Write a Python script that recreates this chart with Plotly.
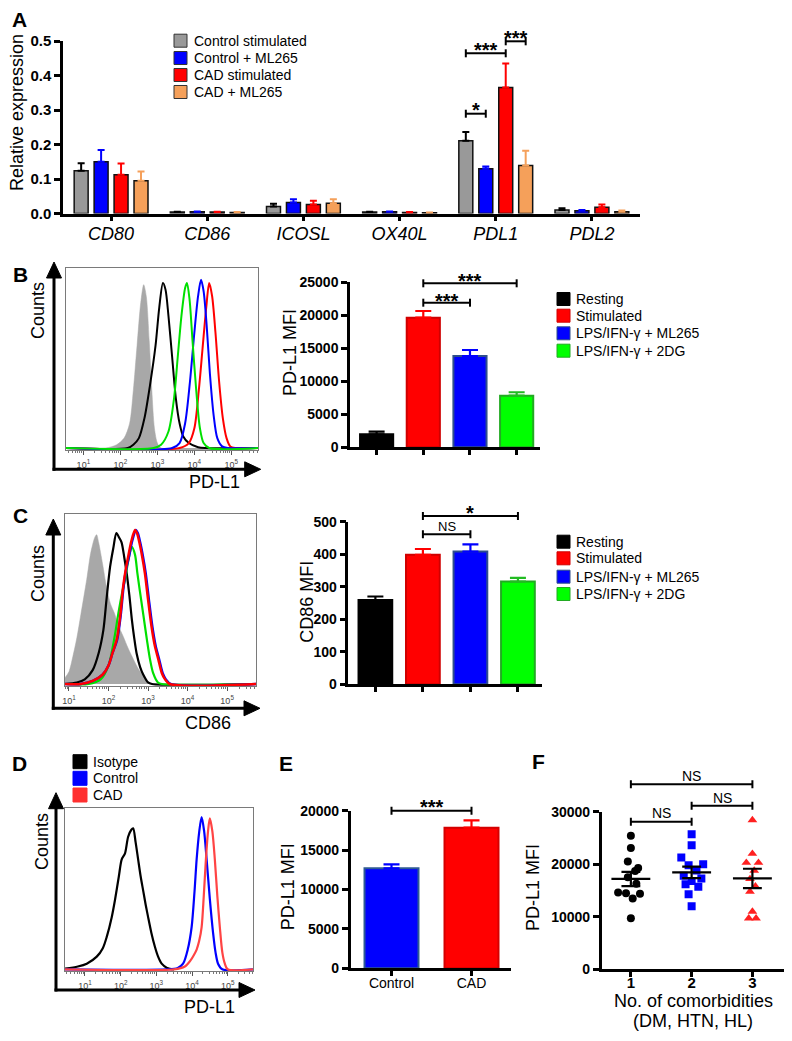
import numpy as np
import plotly.graph_objects as go

# The page body has an 8px margin; the figure is sized so that the page is 792x1041.
W, H = 792, 1041
OFF = 8
FW, FH = W - 2 * OFF, H - 2 * OFF
FONT = "Arial, Liberation Sans, sans-serif"

# ---------------- Panel A data ----------------
genes = ["CD80", "CD86", "ICOSL", "OX40L", "PDL1", "PDL2"]
a_series = ["Control stimulated", "Control + ML265", "CAD stimulated", "CAD + ML265"]
a_ctrl_stim = [0.124, 0.004, 0.020, 0.004, 0.211, 0.010]
a_ctrl_stim_err = [0.022, 0.001, 0.008, 0.001, 0.025, 0.005]
a_ctrl_ml = [0.150, 0.005, 0.032, 0.005, 0.130, 0.008]
a_ctrl_ml_err = [0.034, 0.001, 0.009, 0.001, 0.006, 0.002]
a_cad_stim = [0.112, 0.004, 0.026, 0.003, 0.365, 0.018]
a_cad_stim_err = [0.033, 0.001, 0.011, 0.001, 0.070, 0.008]
a_cad_ml = [0.095, 0.003, 0.030, 0.002, 0.139, 0.005]
a_cad_ml_err = [0.027, 0.001, 0.011, 0.001, 0.043, 0.004]
a_ticks = [0.0, 0.1, 0.2, 0.3, 0.4, 0.5]

# ---------------- Panel B / C bar data ----------------
bc_groups = ["Resting", "Stimulated", "LPS/IFN-γ + ML265", "LPS/IFN-γ + 2DG"]
b_pdl1 = [1970, 19640, 13830, 7820]
b_pdl1_err = [390, 1010, 910, 520]
b_ticks = [0, 5000, 10000, 15000, 20000, 25000]
c_cd86 = [259, 398, 408, 316]
c_cd86_err = [11, 18, 22, 11]
c_ticks = [0, 100, 200, 300, 400, 500]

# ---------------- Histogram data (x = log10 intensity, y = % of mode) ----------------
hist_ticks = [1, 2, 3, 4, 5]
hist_ticktext = ["10<sup>1</sup>", "10<sup>2</sup>", "10<sup>3</sup>", "10<sup>4</sup>", "10<sup>5</sup>"]

hb_gray_x = [0.53, 1.6, 1.9, 2.1, 2.25, 2.35, 2.45, 2.55, 2.63, 2.7, 2.78, 2.85, 2.92, 3.0, 3.1, 5.72]
hb_gray_y = [0, 0, 2, 6, 15, 35, 62, 88, 99, 92, 65, 35, 12, 3, 0, 0]
hb_black_x = [0.53, 2.2, 2.35, 2.5, 2.65, 2.8, 2.95, 3.05, 3.15, 3.22, 3.3, 3.4, 3.5, 3.6, 3.7, 3.85, 4.1, 4.3, 5.72]
hb_black_y = [0, 0, 2, 6, 18, 38, 62, 85, 100, 96, 80, 55, 30, 15, 7, 3, 0.5, 0, 0]
hb_red_x = [0.53, 3.6, 3.85, 4.0, 4.12, 4.22, 4.32, 4.4, 4.48, 4.57, 4.67, 4.77, 4.87, 4.97, 5.1, 5.72]
hb_red_y = [0, 0, 3, 12, 35, 60, 85, 100, 92, 70, 40, 18, 6, 1, 0, 0]
hb_blue_x = [0.53, 3.4, 3.6, 3.75, 3.88, 4.0, 4.1, 4.18, 4.25, 4.33, 4.42, 4.52, 4.62, 4.75, 4.9, 5.72]
hb_blue_y = [0, 0, 3, 15, 40, 70, 92, 102, 95, 75, 45, 20, 6, 1, 0, 0]
hb_green_x = [0.53, 2.9, 3.1, 3.3, 3.45, 3.55, 3.65, 3.75, 3.8, 3.87, 3.95, 4.05, 4.15, 4.25, 4.4, 5.72]
hb_green_y = [0, 0, 2, 10, 30, 55, 80, 97, 100, 90, 65, 35, 12, 3, 0, 0]

hc_gray_x = [0.9, 1.0, 1.1, 1.2, 1.3, 1.45, 1.55, 1.65, 1.7, 1.75, 1.85, 1.95, 2.05, 2.15, 2.25, 2.37, 2.5, 2.63, 2.75, 2.88, 3.0, 3.15, 5.73]
hc_gray_y = [4, 8, 18, 30, 45, 68, 85, 95, 97, 92, 78, 63, 52, 46, 38, 31, 23, 16, 10, 5, 1, 0, 0]
hc_black_x = [0.9, 1.2, 1.4, 1.6, 1.75, 1.87, 1.95, 2.04, 2.12, 2.2, 2.27, 2.33, 2.4, 2.46, 2.53, 2.59, 2.65, 2.71, 2.8, 2.88, 3.0, 3.1, 5.73]
hc_black_y = [0, 1, 3, 9, 20, 35, 55, 76, 88, 98, 95, 92, 82, 72, 57, 42, 30, 20, 11, 6, 1, 0, 0]
hc_green_x = [0.9, 1.5, 1.8, 2.0, 2.15, 2.25, 2.35, 2.42, 2.5, 2.59, 2.67, 2.73, 2.79, 2.88, 2.97, 3.05, 3.13, 3.25, 3.35, 5.73]
hc_green_y = [0, 0, 3, 12, 30, 46, 60, 68, 80, 89, 84, 72, 61, 45, 29, 16, 7, 1, 0, 0]
hc_blue_x = [0.9, 1.3, 1.6, 1.85, 2.0, 2.1, 2.22, 2.31, 2.38, 2.45, 2.52, 2.6, 2.69, 2.74, 2.8, 2.87, 2.94, 3.02, 3.11, 3.19, 3.28, 3.37, 3.45, 3.57, 5.73]
hc_blue_y = [0, 0, 2, 6, 12, 20, 29, 45, 63, 75, 83, 93, 100, 98, 92, 83, 72, 55, 37, 25, 16, 7, 3, 0, 0]
hc_red_x = [0.9, 1.3, 1.6, 1.85, 2.0, 2.1, 2.21, 2.3, 2.37, 2.44, 2.5, 2.58, 2.67, 2.72, 2.78, 2.85, 2.92, 3.0, 3.09, 3.17, 3.26, 3.35, 3.43, 3.55, 5.73]
hc_red_y = [0, 0, 2, 6, 12, 20, 29, 45, 63, 75, 83, 93, 100, 98, 92, 83, 72, 55, 37, 25, 16, 7, 3, 0, 0]

hd_black_x = [0.44, 0.8, 1.05, 1.33, 1.5, 1.61, 1.75, 1.84, 1.95, 2.03, 2.12, 2.21, 2.3, 2.35, 2.42, 2.49, 2.56, 2.63, 2.7, 2.77, 2.86, 2.96, 3.05, 3.15, 3.3, 3.5]
hd_black_y = [0.5, 2, 4, 9, 15, 23, 37, 49, 66, 78, 82, 94, 99, 100, 90, 78, 66, 56, 46, 37, 26, 16, 9, 4, 1, 0]
hd_blue_x = [0.44, 3.3, 3.6, 3.75, 3.88, 3.99, 4.07, 4.13, 4.2, 4.27, 4.34, 4.41, 4.5, 4.59, 4.66, 4.73, 4.85, 5.71]
hd_blue_y = [0, 0, 1, 4, 14, 30, 55, 78, 97, 108, 98, 78, 50, 26, 12, 4, 0, 0]
hd_red_x = [0.44, 3.5, 3.8, 3.95, 4.05, 4.13, 4.2, 4.27, 4.33, 4.39, 4.45, 4.5, 4.57, 4.64, 4.71, 4.78, 4.85, 4.92, 5.0, 5.71]
hd_red_y = [0, 0, 2, 6, 10, 14, 20, 30, 52, 78, 98, 107, 98, 78, 52, 30, 12, 4, 0, 0]
d_groups = ["Isotype", "Control", "CAD"]

# ---------------- Panel E data ----------------
e_groups = ["Control", "CAD"]
e_pdl1 = [12690, 17840]
e_pdl1_err = [510, 940]
e_ticks = [0, 5000, 10000, 15000, 20000]

# ---------------- Panel F data ----------------
f_groups = [1, 2, 3]
f1_vals = [25400, 23100, 20500, 19300, 18700, 17500, 16300, 14600, 14500, 14400, 13500, 9700]
f1_jitter = [0.0, 0.0, -0.05, 0.12, 0.07, -0.05, 0.09, -0.21, -0.08, 0.15, 0.03, 0.0]
f2_vals = [25700, 23600, 21300, 20000, 19800, 18800, 17800, 17300, 16800, 16200, 15700, 14300, 12000]
f2_jitter = [0.0, 0.0, -0.17, 0.19, -0.05, 0.08, -0.13, 0.16, 0.0, -0.1, 0.11, -0.05, 0.0]
f3_vals = [28400, 22000, 20300, 20300, 18800, 17200, 15800, 14800, 11000, 9700, 9700]
f3_jitter = [0.0, 0.0, -0.1, 0.1, 0.03, -0.04, 0.05, -0.04, 0.0, -0.06, 0.06]
f_mean = [17200, 18450, 17300]
f_sem = [1350, 1080, 1840]
f_ticks = [0, 10000, 20000, 30000]

# ---------------- helpers (page pixel -> paper fraction) ----------------
def PX(x):
    return (x - OFF) / FW

def PY(y):
    return 1 - (y - OFF) / FH

def clamp(v):
    return min(1.0, max(0.0, v))

def dom_x(a, b):
    return [clamp(PX(a)), clamp(PX(b))]

def dom_y(top, bottom):
    return [clamp(PY(bottom)), clamp(PY(top))]

shapes = []
annots = []

def text(x, y, s, size=14, bold=False, xanchor="center", yanchor="middle", angle=0,
         xref="paper", italic=False, color="black"):
    annots.append(dict(x=x if xref != "paper" else PX(x), y=PY(y), xref=xref, yref="paper",
                       text=s, showarrow=False, xanchor=xanchor, yanchor=yanchor,
                       textangle=angle,
                       font=dict(family=FONT, size=size, color=color,
                                 weight="bold" if bold else "normal",
                                 style="italic" if italic else "normal")))

def bracket(xref, x0, x1, ypx, label, label_py, size=20, bold=True, tick=4, lw=2):
    line = dict(color="black", width=lw)
    shapes.append(dict(type="line", xref=xref, yref="paper", x0=x0, x1=x1,
                       y0=PY(ypx), y1=PY(ypx), line=line))
    for xx in (x0, x1):
        shapes.append(dict(type="line", xref=xref, yref="paper", x0=xx, x1=xx,
                           y0=PY(ypx - tick), y1=PY(ypx + tick), line=line))
    text((x0 + x1) / 2, label_py, label, size=size, bold=bold, xref=xref)

def legend_item(xsq, yc, size, fill, border, label, fsize=14, gap=5):
    shapes.append(dict(type="rect", xref="paper", yref="paper",
                       x0=PX(xsq), x1=PX(xsq + size), y0=PY(yc + size / 2), y1=PY(yc - size / 2),
                       fillcolor=fill, line=dict(color=border, width=1)))
    text(xsq + size + gap, yc, label, size=fsize, xanchor="left")

def arrows(xv, y_corner, y_tip, x_tip, head=16, half=7.5, lw=3):
    line = dict(color="black", width=lw)
    shapes.append(dict(type="line", xref="paper", yref="paper", x0=PX(xv), x1=PX(xv),
                       y0=PY(y_corner + lw / 2), y1=PY(y_tip + head - 1), line=line))
    shapes.append(dict(type="line", xref="paper", yref="paper", x0=PX(xv - lw / 2), x1=PX(x_tip - head + 1),
                       y0=PY(y_corner), y1=PY(y_corner), line=line))
    shapes.append(dict(type="path", xref="paper", yref="paper",
                       path=f"M {PX(xv - half)} {PY(y_tip + head)} L {PX(xv)} {PY(y_tip)} L {PX(xv + half)} {PY(y_tip + head)} Z",
                       fillcolor="black", line=dict(color="black", width=1)))
    shapes.append(dict(type="path", xref="paper", yref="paper",
                       path=f"M {PX(x_tip - head)} {PY(y_corner - half)} L {PX(x_tip)} {PY(y_corner)} L {PX(x_tip - head)} {PY(y_corner + half)} Z",
                       fillcolor="black", line=dict(color="black", width=1)))

fig = go.Figure()

# ---------------- Panel A ----------------
a_cols = ["#999999", "#0000ff", "#ff0000", "#f5a05a"]
a_errcols = ["#000000", "#0000ff", "#ff0000", "#f5a05a"]
a_vals = [a_ctrl_stim, a_ctrl_ml, a_cad_stim, a_cad_ml]
a_errs = [a_ctrl_stim_err, a_ctrl_ml_err, a_cad_stim_err, a_cad_ml_err]
for name, v, e, c, ec in zip(a_series, a_vals, a_errs, a_cols, a_errcols):
    fig.add_trace(go.Bar(x=genes, y=v, name=name, marker=dict(color=c, line=dict(color="#111111", width=1.5)),
                         error_y=dict(type="data", array=e, arrayminus=[0] * len(e), symmetric=False,
                                      color=ec, thickness=2, width=3.5),
                         xaxis="x", yaxis="y"))
BARGAP, GROUPGAP = 0.17, 0.3
slot = (1 - BARGAP) / 4
pd_i = genes.index("PDL1")
pos = [pd_i + (k - 1.5) * slot for k in range(4)]
bracket("x", pos[0], pos[1], 113.7, "*", 110, size=20)
bracket("x", pos[0], pos[2], 53.3, "***", 50, size=20)
bracket("x", pos[2], pos[3], 41.3, "***", 38, size=20)
for k, (lab, c) in enumerate(zip(a_series, a_cols)):
    legend_item(174, [40.7, 58, 75, 92][k], 13, c, "#333333", lab, fsize=14, gap=5)
text(19, 19, "A", size=21, bold=True)
text(17, 113, "Relative expression", size=18, angle=-90)

# ---------------- Histogram helper ----------------
def hist_line(x, y, color, ax, width=2):
    fig.add_trace(go.Scatter(x=x, y=y, mode="lines", line=dict(color=color, width=width, shape="spline", smoothing=0.8),
                             xaxis="x" + ax, yaxis="y" + ax, hoverinfo="skip"))

def hist_fill(x, y, ax):
    fig.add_trace(go.Scatter(x=x, y=y, mode="lines", fill="tozeroy", fillcolor="#a8a8a8",
                             line=dict(color="#a8a8a8", width=0.5, shape="spline", smoothing=0.8),
                             xaxis="x" + ax, yaxis="y" + ax, hoverinfo="skip"))

# ---------------- Panel B histogram ----------------
hist_fill(hb_gray_x, hb_gray_y, "2")
hist_line(hb_black_x, hb_black_y, "#000000", "2")
hist_line(hb_red_x, hb_red_y, "#ff0000", "2")
hist_line(hb_blue_x, hb_blue_y, "#0000ff", "2")
hist_line(hb_green_x, hb_green_y, "#00e000", "2")
arrows(54, 469.3, 262, 260.7)
text(20, 274, "B", size=21, bold=True)
text(38, 311, "Counts", size=18, angle=-90)
text(214, 482, "PD-L1", size=18)

# ---------------- Bar helper ----------------
def bar_one(cat, val, err, fill, border, errcol, ax, width):
    fig.add_trace(go.Bar(x=[cat], y=[val], width=width, offset=-width / 2,
                         marker=dict(color=fill, line=dict(color=border, width=2)),
                         error_y=dict(type="data", array=[err], arrayminus=[0], symmetric=False,
                                      color=errcol, thickness=2.2, width=8),
                         xaxis="x" + ax, yaxis="y" + ax))

bc_fill = ["#000000", "#ff0000", "#0000ff", "#00ff00"]
bc_border = ["#000000", "#d00000", "#2e4e8c", "#22aa22"]
bc_err = ["#000000", "#ff0000", "#0000ff", "#22bb22"]

# ---------------- Panel B bars ----------------
for g, v, e, f, b, ec in zip(bc_groups, b_pdl1, b_pdl1_err, bc_fill, bc_border, bc_err):
    bar_one(g, v, e, f, b, ec, "3", 0.71)
bracket("x3", 1, 3, 283.3, "***", 281, size=20)
bracket("x3", 1, 2, 302.7, "***", 300.5, size=20)
for k in range(4):
    legend_item(557, [299, 315.7, 333.3, 350.7][k], 13, bc_fill[k], bc_border[k], bc_groups[k], fsize=14, gap=4)
text(290, 353, "PD-L1 MFI", size=18, angle=-90)

# ---------------- Panel C histogram ----------------
hist_fill(hc_gray_x, hc_gray_y, "4")
hist_line(hc_black_x, hc_black_y, "#000000", "4", 2.2)
hist_line(hc_green_x, hc_green_y, "#00e000", "4", 2.2)
hist_line(hc_blue_x, hc_blue_y, "#0000ff", "4", 2.5)
hist_line(hc_red_x, hc_red_y, "#ff0000", "4", 2.5)
arrows(53.3, 708.3, 519, 260)
text(20, 515, "C", size=21, bold=True)
text(38, 574, "Counts", size=18, angle=-90)
text(208, 723, "CD86", size=18)

# ---------------- Panel C bars ----------------
for g, v, e, f, b, ec in zip(bc_groups, c_cd86, c_cd86_err, bc_fill, bc_border, bc_err):
    bar_one(g, v, e, f, b, ec, "5", 0.71)
bracket("x5", 1, 3, 516, "*", 512.5, size=20)
bracket("x5", 1, 2, 534.3, "NS", 526.5, size=13, bold=False)
for k in range(4):
    legend_item(557, [541.7, 558.3, 576.7, 594][k], 13, bc_fill[k], bc_border[k], bc_groups[k], fsize=14, gap=4)
text(306.7, 602, "CD86 MFI", size=18, angle=-90)

# ---------------- Panel D histogram ----------------
hist_line(hd_black_x, hd_black_y, "#000000", "6", 2.2)
hist_line(hd_blue_x, hd_blue_y, "#0000ff", "6", 2.2)
hist_line(hd_red_x, hd_red_y, "#ff4444", "6", 2.2)
arrows(56, 990, 792.7, 255)
text(19, 763, "D", size=21, bold=True)
text(42, 842, "Counts", size=18, angle=-90)
text(209, 1007, "PD-L1", size=18)
for k, c in enumerate(["#000000", "#0000ff", "#ff3030"]):
    legend_item(73, [761.7, 778.3, 795][k], 14, c, c, d_groups[k], fsize=14, gap=4)

# ---------------- Panel E bars ----------------
e_fill = ["#0000ff", "#ff0000"]
e_border = ["#2e5a94", "#d40000"]
for g, v, e, f, b in zip(e_groups, e_pdl1, e_pdl1_err, e_fill, e_border):
    bar_one(g, v, e, f, b, f, "7", 0.675)
bracket("x7", 0, 1, 810.7, "***", 806.5, size=20)
text(285.5, 763, "E", size=21, bold=True)
text(288.3, 887, "PD-L1 MFI", size=18, angle=-90)

# ---------------- Panel F scatter ----------------
f_vals = [f1_vals, f2_vals, f3_vals]
f_jit = [f1_jitter, f2_jitter, f3_jitter]
f_sym = ["circle", "square", "triangle-up"]
f_col = ["#000000", "#0000ff", "#ff2020"]
for g, vals, jit, sym, col in zip(f_groups, f_vals, f_jit, f_sym, f_col):
    fig.add_trace(go.Scatter(x=[g + j for j in jit], y=vals, mode="markers",
                             marker=dict(symbol=sym, color=col, size=8 if sym != "triangle-up" else 8.5),
                             xaxis="x8", yaxis="y8"))
for g, m, s in zip(f_groups, f_mean, f_sem):
    fig.add_trace(go.Scatter(x=[g - 0.32, g + 0.32], y=[m, m], mode="lines",
                             line=dict(color="black", width=2.2), xaxis="x8", yaxis="y8"))
    for yy in (m - s, m + s):
        fig.add_trace(go.Scatter(x=[g - 0.155, g + 0.155], y=[yy, yy], mode="lines",
                                 line=dict(color="black", width=2.2), xaxis="x8", yaxis="y8"))
    fig.add_trace(go.Scatter(x=[g, g], y=[m - s, m + s], mode="lines",
                             line=dict(color="black", width=2.2), xaxis="x8", yaxis="y8"))
bracket("x8", 1, 3, 784.3, "NS", 776, size=14, bold=False)
bracket("x8", 2, 3, 805.7, "NS", 798.3, size=14, bold=False)
bracket("x8", 1, 2, 821.7, "NS", 813.3, size=14, bold=False)
text(538, 761, "F", size=21, bold=True)
text(533, 888, "PD-L1 MFI", size=18, angle=-90)
text(693, 1001, "No. of comorbidities", size=18)
text(693, 1021, "(DM, HTN, HL)", size=18)

# ---------------- Axes ----------------
def bold_labels(vals, fmt):
    return ["<b>" + format(v, fmt) + "</b>" for v in vals]

def bar_yaxis(domain, rng, tickvals, fmt="d", size=14, lw=2.5):
    return dict(domain=domain, range=rng, tickmode="array", tickvals=tickvals,
                ticktext=bold_labels(tickvals, fmt), showline=True, automargin=False,
                linecolor="black", linewidth=lw, ticks="outside", ticklen=6, tickwidth=lw,
                tickcolor="black", showgrid=False, zeroline=False, fixedrange=True,
                tickfont=dict(family=FONT, size=size, color="black"))

def bar_xaxis(domain, anchor, rng, labels=False, cat=True, size=14, lw=2.5, standoff=0):
    d = dict(domain=domain, anchor=anchor, range=rng, showline=True, linecolor="black",
             linewidth=lw, ticks="outside", ticklen=5, tickwidth=lw, tickcolor="black",
             showgrid=False, zeroline=False, showticklabels=labels, automargin=False,
             ticklabelstandoff=standoff,
             tickfont=dict(family=FONT, size=size, color="black"))
    if cat:
        d["type"] = "category"
    return d

minor_vals = [n + float(np.log10(k)) for n in range(0, 6) for k in range(2, 10)]

def hist_xaxis(domain, anchor, rng):
    return dict(domain=domain, anchor=anchor, range=rng, tickmode="array", tickvals=hist_ticks,
                ticktext=hist_ticktext, showline=True, mirror=True, linecolor="#7a7a7a", linewidth=1,
                ticks="outside", ticklen=4, tickwidth=1, tickcolor="#555555", showgrid=False,
                zeroline=False, ticklabelstandoff=2, automargin=False,
                tickfont=dict(family=FONT, size=9, color="#444444"),
                minor=dict(tickmode="array", tickvals=minor_vals, ticks="outside", ticklen=2,
                           tickwidth=1, tickcolor="#777777", showgrid=False))

def hist_yaxis(domain, anchor, rng):
    return dict(domain=domain, anchor=anchor, range=rng, showline=True, mirror=True,
                linecolor="#7a7a7a", linewidth=1, ticks="", showticklabels=False,
                showgrid=False, zeroline=False, automargin=False)

layout = dict(
    width=FW, height=FH, autosize=False,
    margin=dict(l=0, r=0, t=0, b=0, pad=0, autoexpand=False),
    paper_bgcolor="white", plot_bgcolor="rgba(0,0,0,0)",
    showlegend=False, barmode="group", bargap=BARGAP, bargroupgap=GROUPGAP,
    font=dict(family=FONT, color="black"),
    shapes=shapes, annotations=annots,
)

xa = bar_xaxis(dom_x(63, 640), "y", [-0.5, 5.5], labels=True, size=18, standoff=-3)
xa["tickfont"]["style"] = "italic"
layout["xaxis"] = xa
layout["yaxis"] = dict(bar_yaxis(dom_y(41, 213.5), [0, 0.5], a_ticks, fmt=".1f", size=15), anchor="x")

layout["xaxis2"] = hist_xaxis(dom_x(66, 258), "y2", [0.53, 5.72])
layout["yaxis2"] = hist_yaxis(dom_y(268, 450), "x2", [-1.2, 109.1])

layout["xaxis3"] = bar_xaxis(dom_x(350, 540), "y3", [-0.57, 3.5])
layout["yaxis3"] = dict(bar_yaxis(dom_y(282.3, 447.3), [0, 25000], b_ticks), anchor="x3")

layout["xaxis4"] = hist_xaxis(dom_x(65, 256), "y4", [0.9, 5.73])
layout["yaxis4"] = hist_yaxis(dom_y(514, 686), "x4", [-1.3, 110.4])

layout["xaxis5"] = bar_xaxis(dom_x(348.3, 541.7), "y5", [-0.57, 3.5])
layout["yaxis5"] = dict(bar_yaxis(dom_y(521.7, 684.3), [0, 500], c_ticks), anchor="x5")

layout["xaxis6"] = hist_xaxis(dom_x(65, 253), "y6", [0.44, 5.71])
layout["yaxis6"] = hist_yaxis(dom_y(808, 971), "x6", [-1.2, 114.4])

layout["xaxis7"] = bar_xaxis(dom_x(350.7, 510.7), "y7", [-0.51, 1.49], labels=True, size=14, standoff=-5)
layout["yaxis7"] = dict(bar_yaxis(dom_y(810.7, 968.3), [0, 20000], e_ticks), anchor="x7")

xf = bar_xaxis(dom_x(601.7, 784), "y8", [0.52, 3.52], labels=True, cat=False, size=15, standoff=-7)
xf["tickmode"] = "array"
xf["tickvals"] = f_groups
xf["ticktext"] = ["<b>%d</b>" % g for g in f_groups]
layout["xaxis8"] = xf
layout["yaxis8"] = dict(bar_yaxis(dom_y(811.7, 969.3), [0, 30000], f_ticks), anchor="x8")

fig.update_layout(**layout)
fig.write_html("out.html", config={"displayModeBar": False})
